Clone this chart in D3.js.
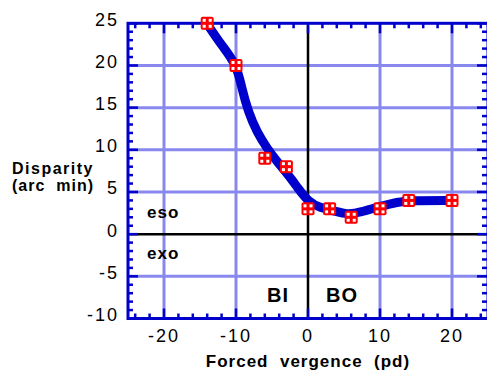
<!DOCTYPE html>
<html>
<head>
<meta charset="utf-8">
<script src="https://cdn.jsdelivr.net/npm/d3@7"></script>
<style>
  html, body { margin: 0; padding: 0; background: #fff; }
  svg { display: block; }
  text { font-family: "Liberation Sans", Arial, sans-serif; white-space: pre; }
</style>
</head>
<body>
<svg id="chart" width="487" height="374"></svg>
<script>
// ---- data ----
const pointX = [-14, -10, -6, -3, 0, 3, 6, 10, 14, 20];
const pointY = [25, 20, 9, 8, 3, 3, 2, 3, 4, 4];
// fitted curve
const fitX = [-13.9, -12, -9.9, -9.2, -8.3, -7.1, -5.7, -4.3, -2.7, -1.35, 0, 1.7, 3.5, 5.5, 7.3, 10, 12.5, 14, 20];
const fitY = [24.8, 22.4, 20.1, 17.3, 14.5, 12.1, 10.2, 8.6, 7.0, 5.4, 3.9, 3.1, 2.8, 2.3, 2.6, 3.3, 3.8, 4, 4];
const xTicks = [-20, -10, 0, 10, 20];
const yTicks = [-10, -5, 0, 5, 10, 15, 20, 25];
const xMinor = d3.range(-24, 25, 2);
const yMinor = d3.range(-10, 26, 1);

const svg = d3.select("#chart");
const x = d3.scaleLinear().domain([-25, 25]).range([128, 488]);
const y = d3.scaleLinear().domain([-10, 25]).range([318.5, 23.3]);
const BLUE = "#0000cc", GRID = "#8888ee";
const x0 = x.range()[0], x1 = x.range()[1], yb = y.range()[0], yt = y.range()[1];

// grid
svg.append("g").selectAll("line").data(xTicks.filter(d => d !== 0)).join("line")
  .attr("x1", d => x(d)).attr("x2", d => x(d)).attr("y1", yt).attr("y2", yb)
  .attr("stroke", GRID).attr("stroke-width", 3);
svg.append("g").selectAll("line").data(yTicks.filter(d => d !== 0 && d !== -10 && d !== 25)).join("line")
  .attr("y1", d => y(d)).attr("y2", d => y(d)).attr("x1", x0).attr("x2", x1)
  .attr("stroke", GRID).attr("stroke-width", 3);

// zero lines
svg.append("line").attr("x1", x(0)).attr("x2", x(0)).attr("y1", yt + 2).attr("y2", yb)
  .attr("stroke", "#000").attr("stroke-width", 2.5);
svg.append("line").attr("x1", x0).attr("x2", x1).attr("y1", y(0)).attr("y2", y(0))
  .attr("stroke", "#000").attr("stroke-width", 2.5);

// ticks (inward, on all sides)
const tk = svg.append("g").attr("stroke", BLUE).attr("stroke-width", 2.5);
xMinor.forEach(v => {
  const major = xTicks.includes(v);
  const L = major ? 10 : 5;
  tk.append("line").attr("x1", x(v)).attr("x2", x(v)).attr("y1", yb).attr("y2", yb - L);
  tk.append("line").attr("x1", x(v)).attr("x2", x(v)).attr("y1", yt).attr("y2", yt + L);
});
yMinor.forEach(v => {
  const major = yTicks.includes(v);
  const L = major ? 10 : 5;
  tk.append("line").attr("y1", y(v)).attr("y2", y(v)).attr("x1", x0).attr("x2", x0 + L);
  tk.append("line").attr("y1", y(v)).attr("y2", y(v)).attr("x1", x1 - 1).attr("x2", x1 - 1 - L);
});

// frame
svg.append("rect").attr("x", x0).attr("y", yt).attr("width", x1 - x0).attr("height", yb - yt)
  .attr("fill", "none").attr("stroke", BLUE).attr("stroke-width", 3);

// tick labels
svg.append("g").selectAll("text").data(xTicks).join("text")
  .attr("x", d => x(d)).attr("y", 342).attr("text-anchor", "middle")
  .attr("font-size", 18).attr("letter-spacing", 2).text(d => d);
svg.append("g").selectAll("text").data(yTicks).join("text")
  .attr("x", 119).attr("y", d => y(d) + 2.5).attr("text-anchor", "end")
  .attr("font-size", 18).attr("letter-spacing", 2).text(d => d);

// fitted curve
const fit = fitX.map((v, i) => [v, fitY[i]]);
svg.append("path").datum(fit)
  .attr("d", d3.line().x(d => x(d[0])).y(d => y(d[1])).curve(d3.curveBasis))
  .attr("fill", "none").attr("stroke", BLUE).attr("stroke-width", 9);

// markers
const pts = pointX.map((v, i) => [v, pointY[i]]);
const mk = svg.append("g").selectAll("g").data(pts).join("g")
  .attr("transform", d => `translate(${x(d[0])},${y(d[1])})`);
mk.append("rect").attr("x", -6.5).attr("y", -6.5).attr("width", 13).attr("height", 13)
  .attr("rx", 2).attr("fill", "#ff0000");
[[-4.5, -4.5], [1.5, -4.5], [-4.5, 1.5], [1.5, 1.5]].forEach(o => {
  mk.append("rect").attr("x", o[0]).attr("y", o[1]).attr("width", 3).attr("height", 3).attr("fill", "#fff");
});

// annotations
const bold = (t, xx, yy, fs, anchor, ls) => svg.append("text").attr("x", xx).attr("y", yy)
  .attr("font-size", fs).attr("font-weight", "bold").attr("text-anchor", anchor || "start")
  .attr("letter-spacing", ls == null ? 1 : ls).text(t);
bold("eso", 147, 218, 17);
bold("exo", 147, 259, 17);
bold("BI", 267, 302, 20);
bold("BO", 326, 302, 20);
bold("Disparity", 12, 174, 16, "start", 1.5);
bold("(arc  min)", 12, 191, 16, "start", 1);
bold("Forced  vergence  (pd)", 308, 367, 17, "middle");
</script>
</body>
</html>
